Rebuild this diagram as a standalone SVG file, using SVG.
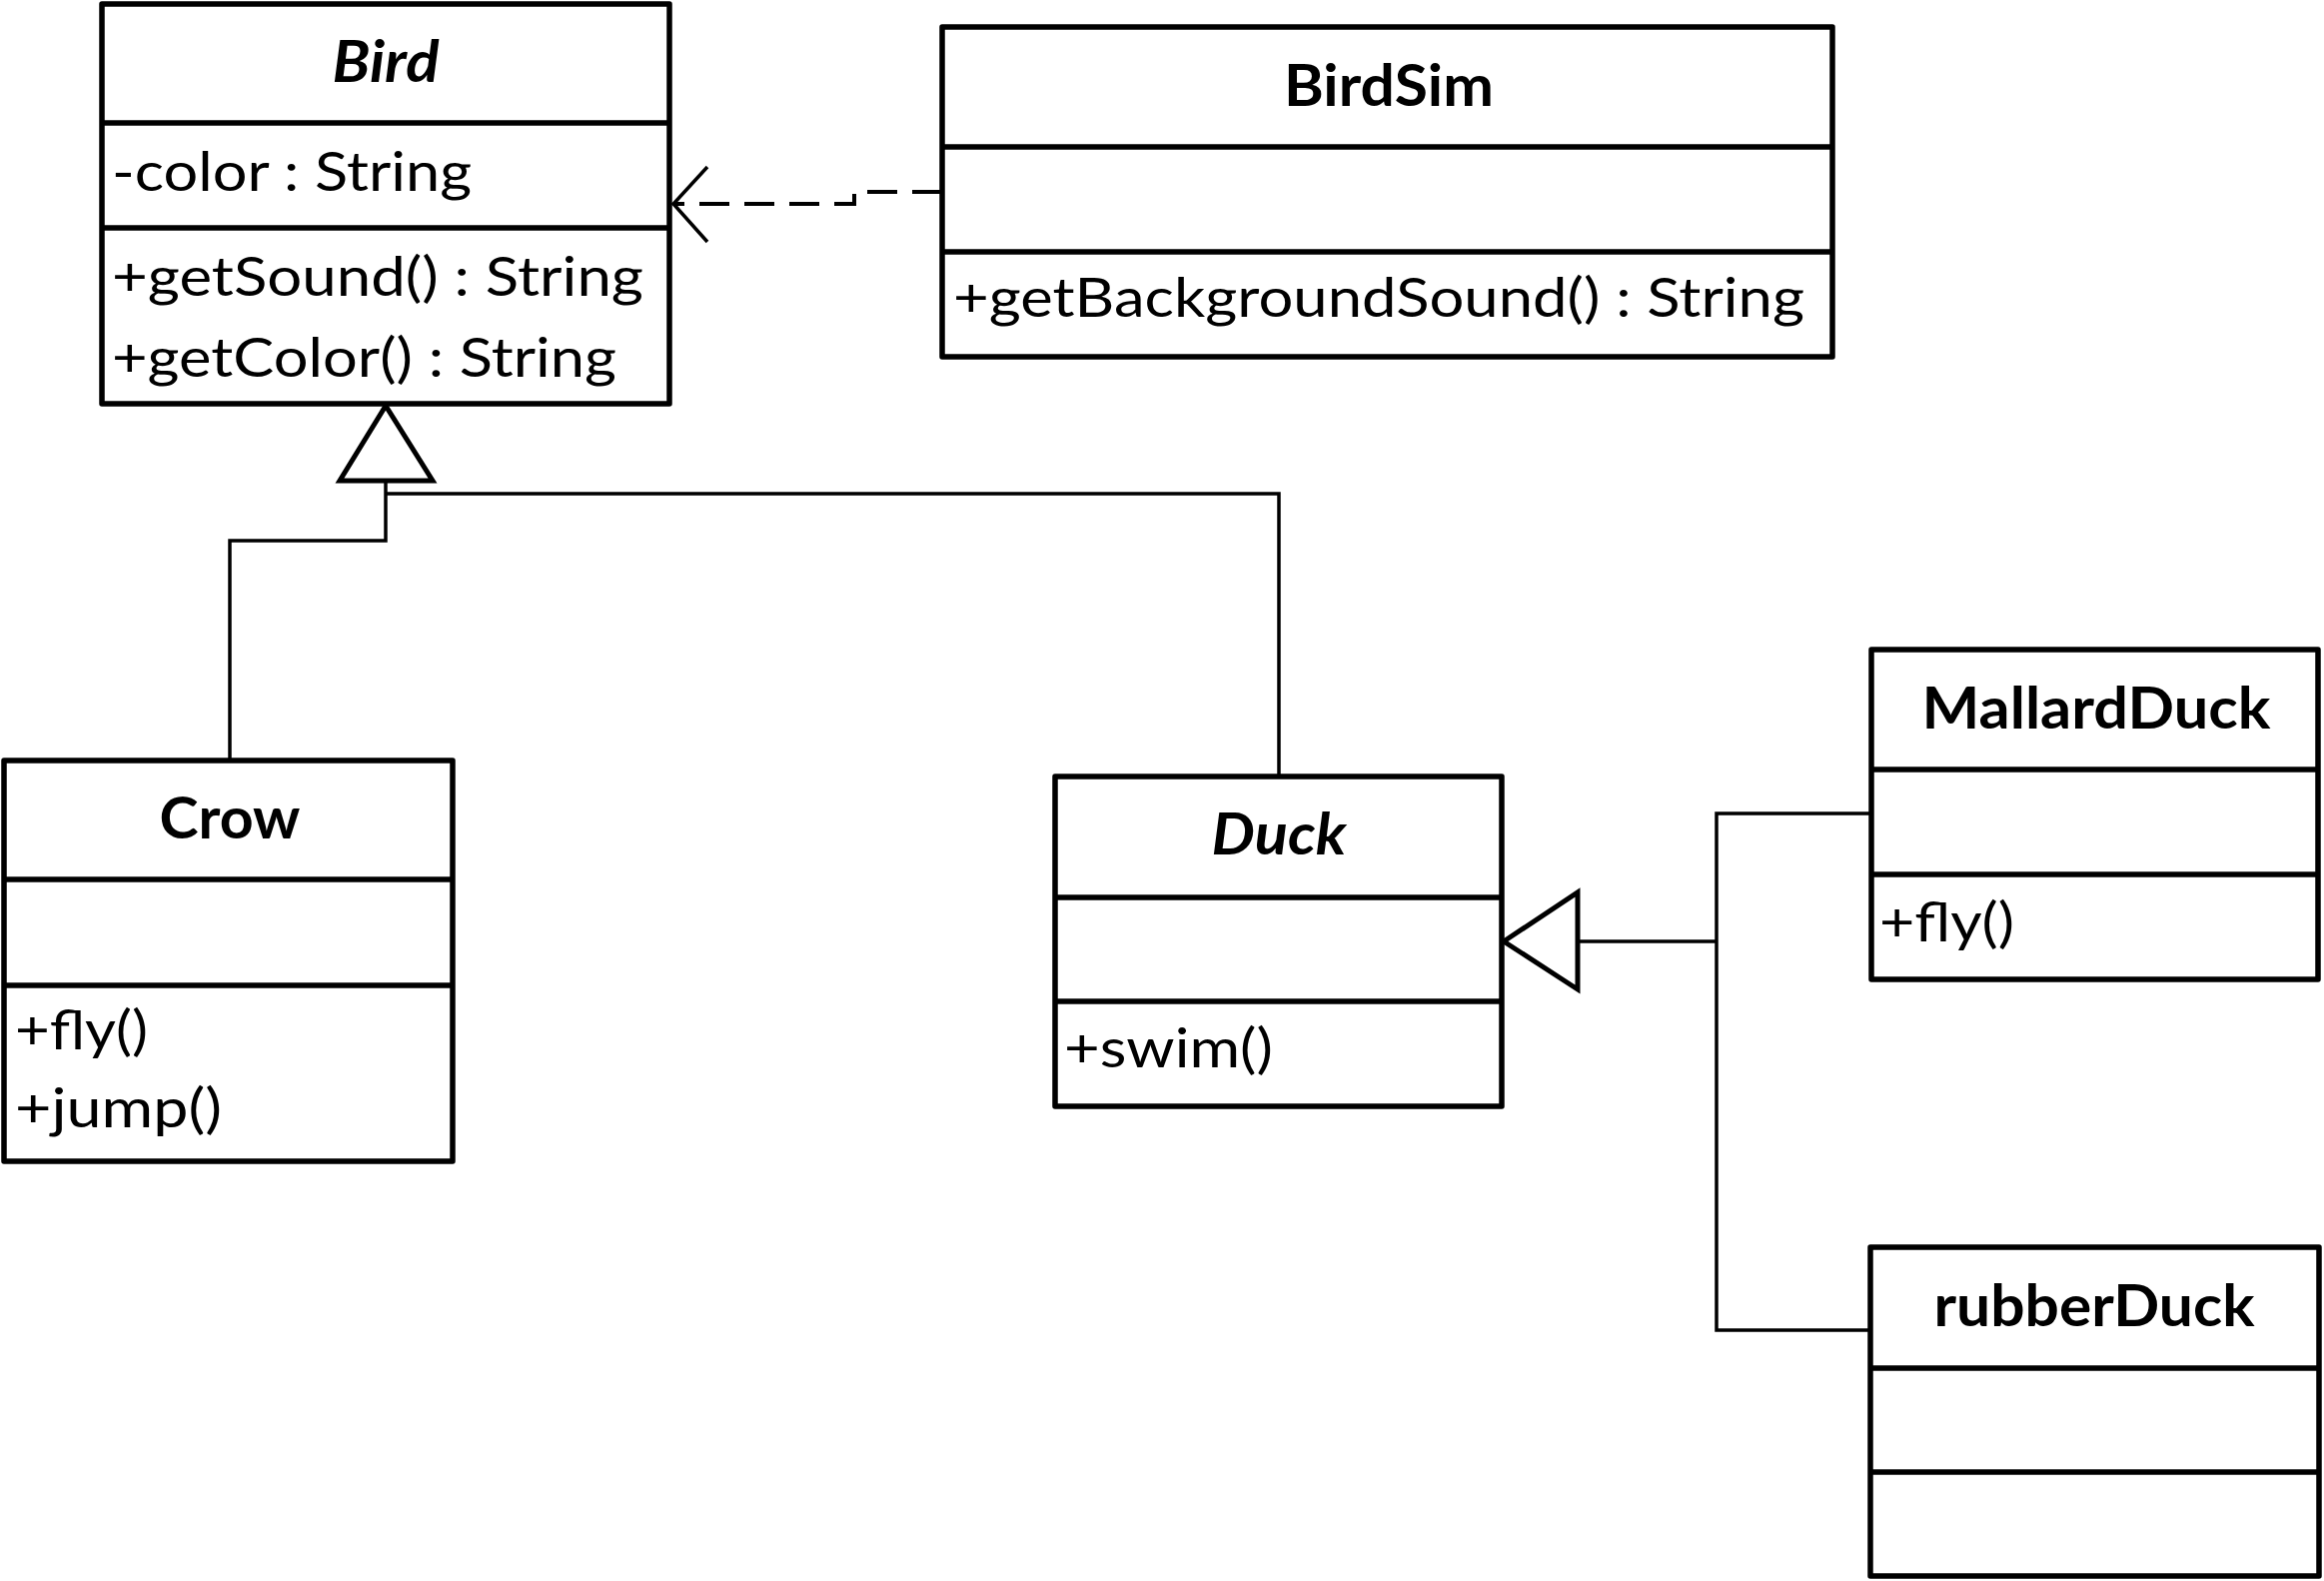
<svg xmlns="http://www.w3.org/2000/svg" width="2326" height="1582" viewBox="0 0 2326 1582">
<style>
.box{fill:#fff;stroke:#000;stroke-width:5.5;stroke-linejoin:round}
.div{stroke:#000;stroke-width:5.5}
.title{font-family:Lato,"Liberation Sans",sans-serif;font-weight:bold;font-size:57px;text-anchor:middle;fill:#000}
.abs{font-style:italic}
.mem{font-family:Lato,"Liberation Sans",sans-serif;font-size:54px;fill:#000}
.line{fill:none;stroke:#000;stroke-width:3.5}
.dash{fill:none;stroke:#000;stroke-width:4;stroke-dasharray:30 15}
.tri{fill:#fff;stroke:#000;stroke-width:5;stroke-linejoin:miter}
.open{fill:none;stroke:#000;stroke-width:3.5}
</style>
<rect width="2326" height="1582" fill="#fff"/>
<g id="connectors">
  <path class="dash" d="M943,192 H855 V204 H676"/>
  <polyline class="open" points="708,167 674,204 708,242"/>
  <path class="line" d="M386,481 V541 H230 V761"/>
  <path class="line" d="M386,494 H1280 V777"/>
  <polygon class="tri" points="386,406 340,481 433,481"/>
  <path class="line" d="M1579,942 H1718"/>
  <path class="line" d="M1873,814 H1718 V1331 H1872"/>
  <polygon class="tri" points="1505,942 1579,893 1579,990"/>
</g>
<g id="Bird">
  <rect class="box" x="102" y="4" width="568" height="400"/>
  <line class="div" x1="102" y1="123" x2="670" y2="123"/>
  <line class="div" x1="102" y1="228" x2="670" y2="228"/>
  <text class="title abs" x="386" y="82" textLength="107" lengthAdjust="spacingAndGlyphs">Bird</text>
  <text class="mem" x="112" y="191" textLength="360" lengthAdjust="spacingAndGlyphs">-color : String</text>
  <text class="mem" x="112" y="296" textLength="532" lengthAdjust="spacingAndGlyphs">+getSound() : String</text>
  <text class="mem" x="112" y="377" textLength="505" lengthAdjust="spacingAndGlyphs">+getColor() : String</text>
</g>
<g id="BirdSim">
  <rect class="box" x="943" y="27" width="891" height="330"/>
  <line class="div" x1="943" y1="147" x2="1834" y2="147"/>
  <line class="div" x1="943" y1="252" x2="1834" y2="252"/>
  <text class="title" x="1390" y="106" textLength="210" lengthAdjust="spacingAndGlyphs">BirdSim</text>
  <text class="mem" x="954" y="317" textLength="852" lengthAdjust="spacingAndGlyphs">+getBackgroundSound() : String</text>
</g>
<g id="Crow">
  <rect class="box" x="4" y="761" width="449" height="401"/>
  <line class="div" x1="4" y1="880" x2="453" y2="880"/>
  <line class="div" x1="4" y1="986" x2="453" y2="986"/>
  <text class="title" x="230" y="839" textLength="141" lengthAdjust="spacingAndGlyphs">Crow</text>
  <text class="mem" x="15" y="1050" textLength="133" lengthAdjust="spacingAndGlyphs">+fly()</text>
  <text class="mem" x="15" y="1128" textLength="207" lengthAdjust="spacingAndGlyphs">+jump()</text>
</g>
<g id="Duck">
  <rect class="box" x="1056" y="777" width="447" height="330"/>
  <line class="div" x1="1056" y1="898" x2="1503" y2="898"/>
  <line class="div" x1="1056" y1="1002" x2="1503" y2="1002"/>
  <text class="title abs" x="1280" y="855" textLength="135" lengthAdjust="spacingAndGlyphs">Duck</text>
  <text class="mem" x="1065" y="1068" textLength="209" lengthAdjust="spacingAndGlyphs">+swim()</text>
</g>
<g id="MallardDuck">
  <rect class="box" x="1873" y="650" width="447" height="330"/>
  <line class="div" x1="1873" y1="770" x2="2320" y2="770"/>
  <line class="div" x1="1873" y1="875" x2="2320" y2="875"/>
  <text class="title" x="2098" y="729" textLength="349" lengthAdjust="spacingAndGlyphs">MallardDuck</text>
  <text class="mem" x="1881" y="942" textLength="135" lengthAdjust="spacingAndGlyphs">+fly()</text>
</g>
<g id="rubberDuck">
  <rect class="box" x="1872" y="1248" width="449" height="329"/>
  <line class="div" x1="1872" y1="1369" x2="2321" y2="1369"/>
  <line class="div" x1="1872" y1="1473" x2="2321" y2="1473"/>
  <text class="title" x="2096" y="1327" textLength="321" lengthAdjust="spacingAndGlyphs">rubberDuck</text>
</g>
</svg>
